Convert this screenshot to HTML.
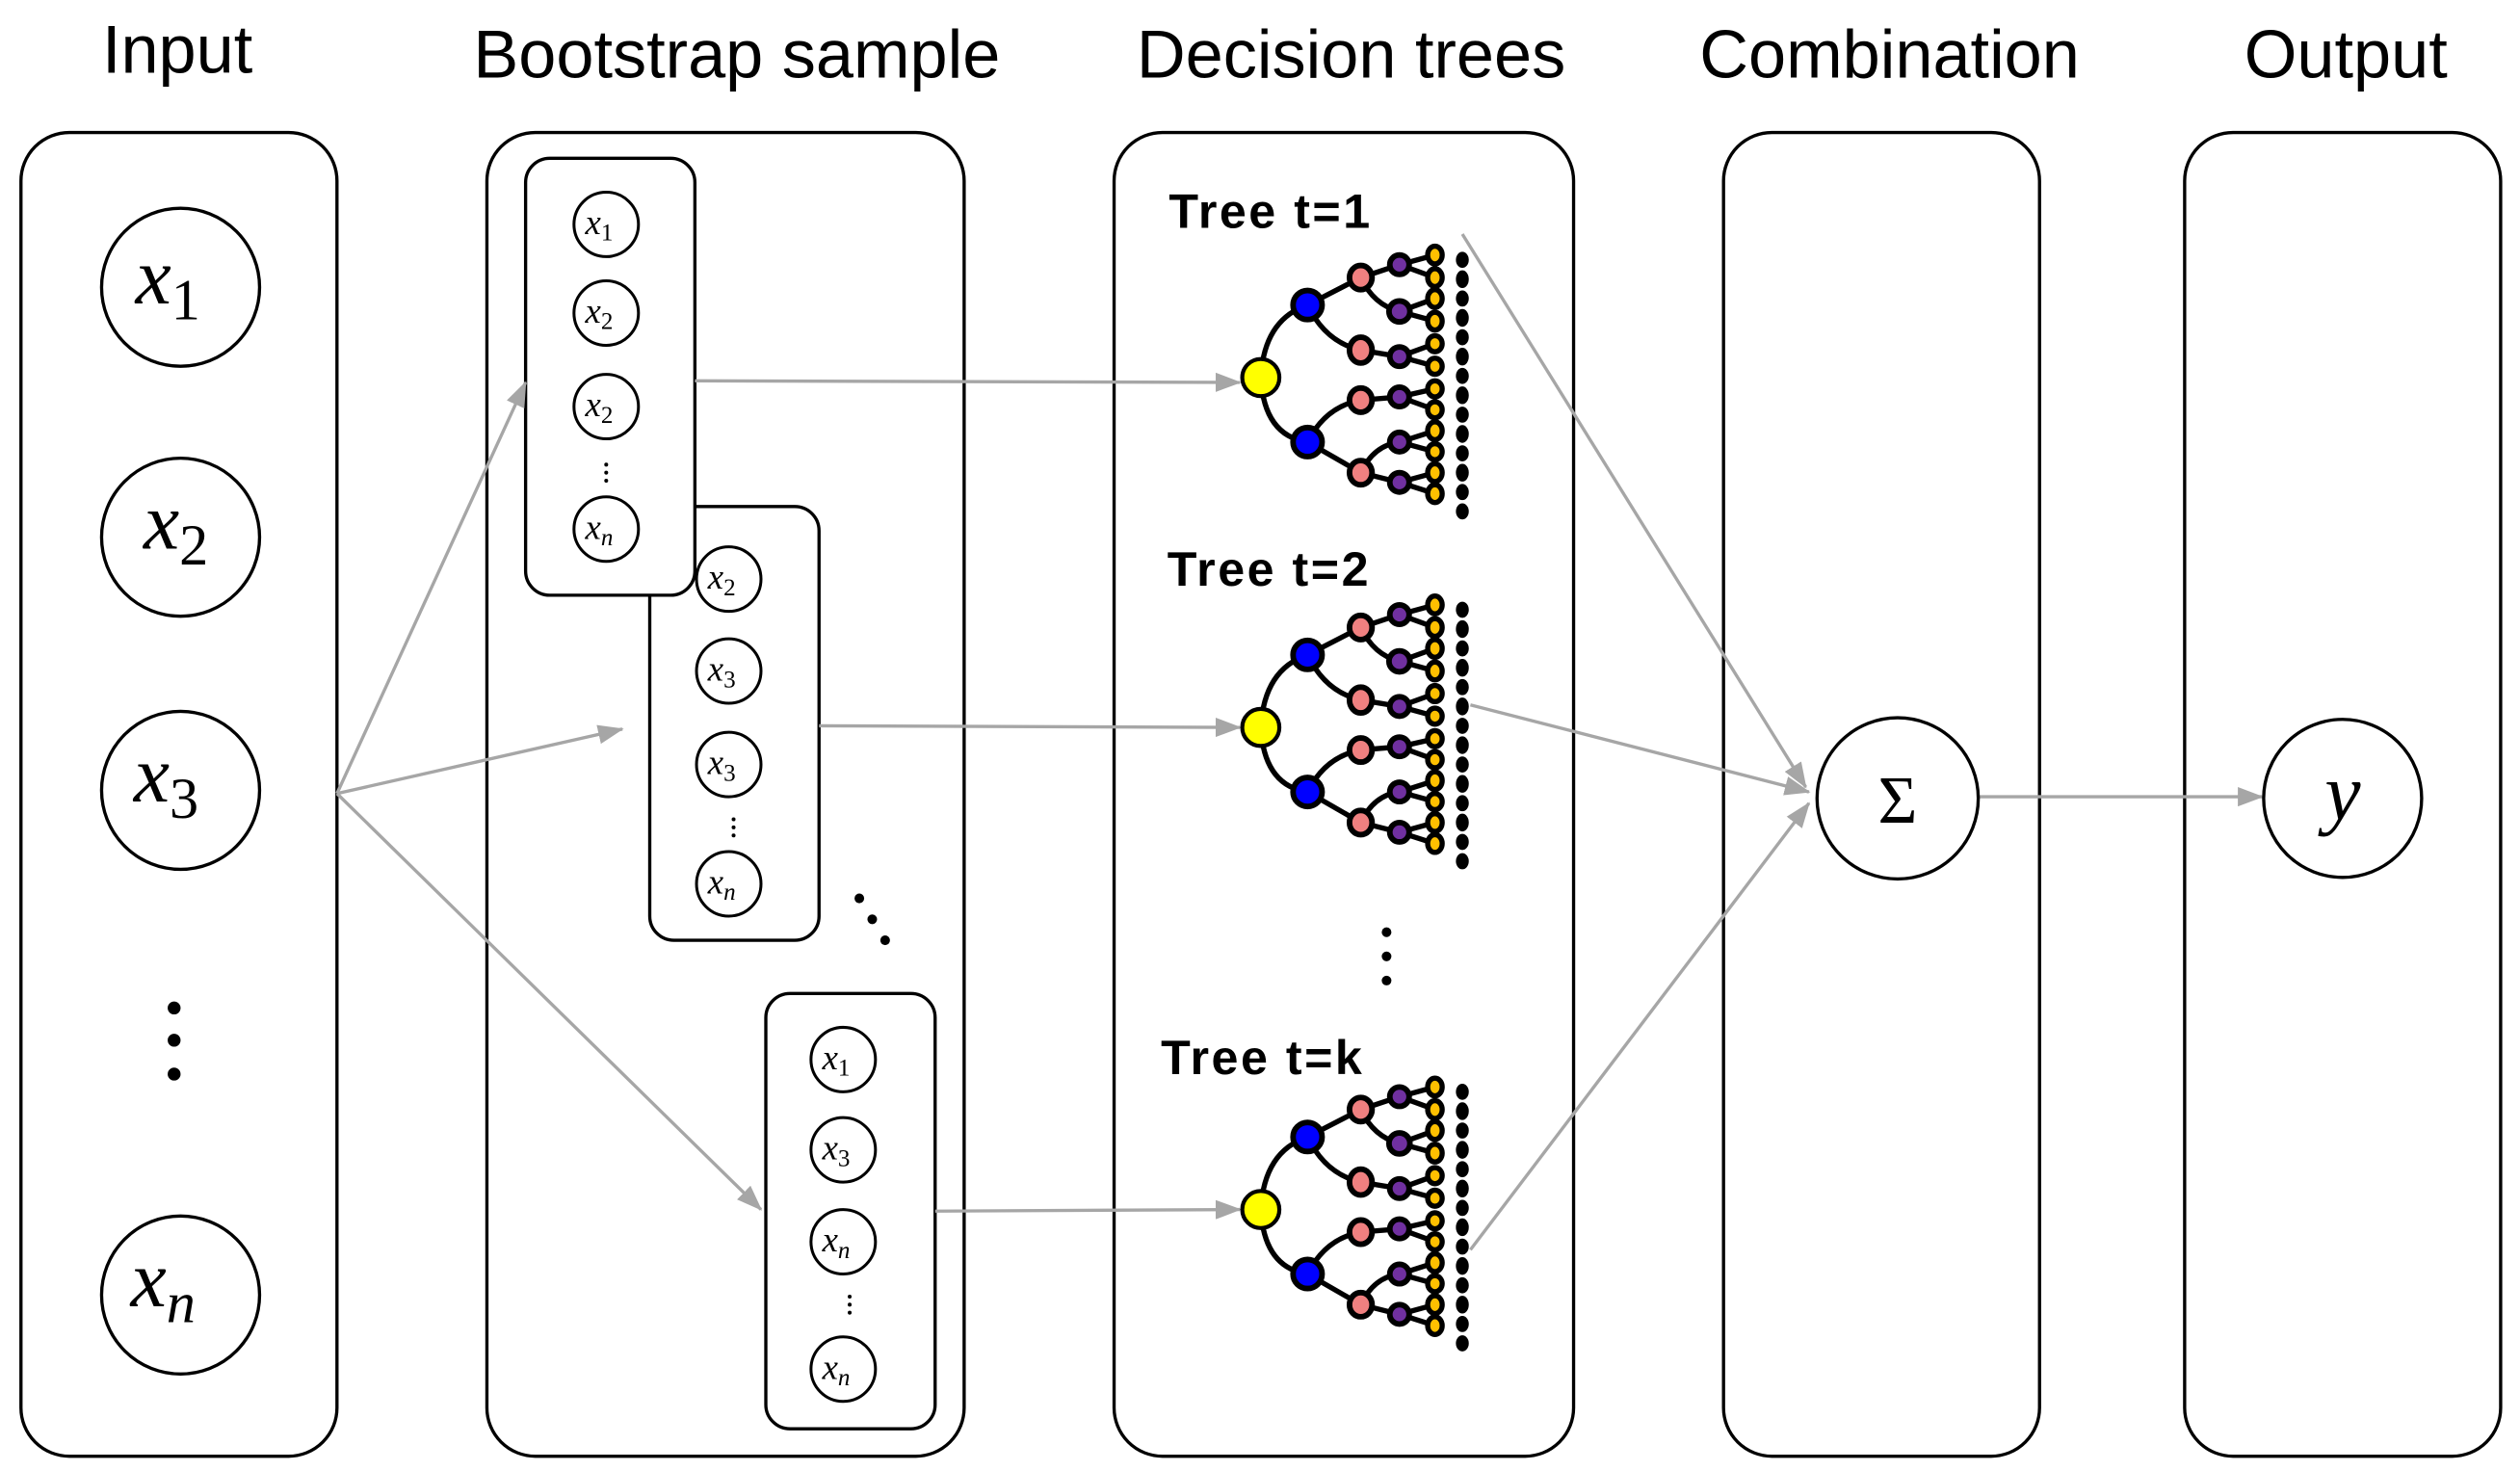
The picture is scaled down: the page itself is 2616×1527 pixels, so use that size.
<!DOCTYPE html>
<html><head><meta charset="utf-8"><style>html,body{margin:0;padding:0;background:#fff}svg{display:block}</style></head>
<body>
<svg width="2616" height="1527" viewBox="0 0 1563 912" xmlns="http://www.w3.org/2000/svg">
<defs>
<marker id="ah" markerWidth="16" markerHeight="12" refX="15" refY="6" orient="auto" markerUnits="userSpaceOnUse">
<path d="M0,0 L16,6 L0,12 Z" fill="#a6a6a6"/></marker>
<g id="tree">
 <g fill="none" stroke="#000" stroke-width="3.2">
  <path d="M0,0 Q2,-36 29,-45"/><path d="M0,0 Q2,36 29,40"/>
  <path d="M29,-45 L62,-62"/><path d="M29,-45 Q40,-22 62,-17"/>
  <path d="M29,40 Q40,18 62,14"/><path d="M29,40 L62,59"/>
  <path d="M62,-62 L86,-70"/><path d="M62,-62 Q70,-45 86,-41"/>
  <path d="M62,-17 L86,-13"/><path d="M62,14 L86,12"/>
  <path d="M62,59 Q70,42 86,40"/><path d="M62,59 L86,65"/>
  <path d="M86,-70 L108,-76"/><path d="M86,-70 L108,-62"/>
  <path d="M86,-41 L108,-49"/><path d="M86,-41 L108,-35"/>
  <path d="M86,-13 L108,-21"/><path d="M86,-13 L108,-7"/>
  <path d="M86,12 L108,7"/><path d="M86,12 L108,20"/>
  <path d="M86,40 L108,33"/><path d="M86,40 L108,46"/>
  <path d="M86,65 L108,59"/><path d="M86,65 L108,72"/>
 </g>
 <g stroke="#000">
  <circle cx="0" cy="0" r="11.5" fill="#ffff00" stroke-width="2.5"/>
  <circle cx="29" cy="-45" r="9" fill="#0000ff" stroke-width="3.5"/>
  <circle cx="29" cy="40" r="9" fill="#0000ff" stroke-width="3.5"/>
  <g fill="#f08080" stroke-width="3.5">
   <ellipse cx="62" cy="-62" rx="7" ry="7.5"/><ellipse cx="62" cy="-17" rx="7" ry="8"/>
   <ellipse cx="62" cy="14" rx="7" ry="7.5"/><ellipse cx="62" cy="59" rx="7" ry="7.5"/>
  </g>
  <g fill="#7030a0" stroke-width="3.5">
   <circle cx="86" cy="-70" r="6"/><circle cx="86" cy="-41" r="6.5"/><circle cx="86" cy="-13" r="6"/>
   <circle cx="86" cy="12" r="6"/><circle cx="86" cy="40" r="6"/><circle cx="86" cy="65" r="6"/>
  </g>
  <g fill="#ffc000" stroke-width="3.2">
   <ellipse cx="108" cy="-76" rx="4.5" ry="5.5"/><ellipse cx="108" cy="-62" rx="4.5" ry="5.5"/>
   <ellipse cx="108" cy="-49" rx="4.5" ry="5.5"/><ellipse cx="108" cy="-35" rx="4.5" ry="5.5"/>
   <ellipse cx="108" cy="-21" rx="4.5" ry="5"/><ellipse cx="108" cy="-7" rx="4.5" ry="5"/>
   <ellipse cx="108" cy="7" rx="4.5" ry="5"/><ellipse cx="108" cy="20" rx="4.5" ry="5"/>
   <ellipse cx="108" cy="33" rx="4.5" ry="5.5"/><ellipse cx="108" cy="46" rx="4.5" ry="5"/>
   <ellipse cx="108" cy="59" rx="4.5" ry="5.5"/><ellipse cx="108" cy="72" rx="4.5" ry="5.5"/>
  </g>
 </g>
 <g fill="#000">
  <ellipse cx="125" cy="-73" rx="4" ry="5"/><ellipse cx="125" cy="-61" rx="4" ry="5.5"/>
  <ellipse cx="125" cy="-49" rx="4" ry="5"/><ellipse cx="125" cy="-37" rx="4" ry="5.5"/>
  <ellipse cx="125" cy="-25" rx="4" ry="5"/><ellipse cx="125" cy="-13" rx="4" ry="5.5"/>
  <ellipse cx="125" cy="-1" rx="4" ry="5"/><ellipse cx="125" cy="11" rx="4" ry="5.5"/>
  <ellipse cx="125" cy="23" rx="4" ry="5"/><ellipse cx="125" cy="35" rx="4" ry="5.5"/>
  <ellipse cx="125" cy="47" rx="4" ry="5"/><ellipse cx="125" cy="59" rx="4" ry="5.5"/>
  <ellipse cx="125" cy="71" rx="4" ry="5"/><ellipse cx="125" cy="83" rx="4" ry="5"/>
 </g>
</g>
</defs>

<g font-family="Liberation Sans, Arial, sans-serif" font-size="42" text-anchor="middle" fill="#000">
 <text x="110" y="45">Input</text>
 <text x="457" y="48">Bootstrap sample</text>
 <text x="838" y="48">Decision trees</text>
 <text x="1172" y="48">Combination</text>
 <text x="1455" y="48">Output</text>
</g>

<g fill="none" stroke="#000" stroke-width="2">
 <rect x="13" y="82" width="196" height="821" rx="30"/>
 <rect x="302" y="82" width="296" height="821" rx="30"/>
 <rect x="691" y="82" width="285" height="821" rx="30"/>
 <rect x="1069" y="82" width="196" height="821" rx="30"/>
 <rect x="1355" y="82" width="196" height="821" rx="30"/>
</g>

<!-- input circles -->
<g fill="#fff" stroke="#000" stroke-width="2">
 <ellipse cx="112" cy="178" rx="49" ry="49"/><ellipse cx="112" cy="333" rx="49" ry="49"/>
 <ellipse cx="112" cy="490" rx="49" ry="49"/><ellipse cx="112" cy="803" rx="49" ry="49"/>
</g>
<g font-family="Liberation Serif, serif" font-style="italic" font-size="50" fill="#000">
 <text x="84" y="188">x<tspan font-style="normal" font-size="36" dy="10">1</tspan></text>
 <text x="89" y="340">x<tspan font-style="normal" font-size="36" dy="10">2</tspan></text>
 <text x="83" y="497">x<tspan font-style="normal" font-size="36" dy="10">3</tspan></text>
 <text x="81" y="810">x<tspan font-size="36" dy="10">n</tspan></text>
</g>
<g fill="#000"><circle cx="108" cy="625" r="4"/><circle cx="108" cy="645" r="4"/><circle cx="108" cy="666" r="4"/></g>

<!-- bootstrap boxes -->
<g fill="#fff" stroke="#000" stroke-width="2">
 <rect x="403" y="314" width="105" height="269" rx="15"/>
 <rect x="326" y="98" width="105" height="271" rx="15"/>
 <rect x="475" y="616" width="105" height="270" rx="15"/>
</g>
<g fill="#fff" stroke="#000" stroke-width="1.8">
 <circle cx="376" cy="139" r="20"/><circle cx="376" cy="194" r="20"/><circle cx="376" cy="252" r="20"/><circle cx="376" cy="328" r="20"/>
 <circle cx="452" cy="359" r="20"/><circle cx="452" cy="416" r="20"/><circle cx="452" cy="474" r="20"/><circle cx="452" cy="548" r="20"/>
 <circle cx="523" cy="657" r="20"/><circle cx="523" cy="713" r="20"/><circle cx="523" cy="770" r="20"/><circle cx="523" cy="849" r="20"/>
</g>
<g font-family="Liberation Serif, serif" font-style="italic" font-size="22" fill="#000">
 <text x="363" y="145">x<tspan font-style="normal" font-size="15" dy="4">1</tspan></text>
 <text x="363" y="200">x<tspan font-style="normal" font-size="15" dy="4">2</tspan></text>
 <text x="363" y="258">x<tspan font-style="normal" font-size="15" dy="4">2</tspan></text>
 <text x="363" y="334">x<tspan font-size="15" dy="4">n</tspan></text>
 <text x="439" y="365">x<tspan font-style="normal" font-size="15" dy="4">2</tspan></text>
 <text x="439" y="422">x<tspan font-style="normal" font-size="15" dy="4">3</tspan></text>
 <text x="439" y="480">x<tspan font-style="normal" font-size="15" dy="4">3</tspan></text>
 <text x="439" y="554">x<tspan font-size="15" dy="4">n</tspan></text>
 <text x="510" y="663">x<tspan font-style="normal" font-size="15" dy="4">1</tspan></text>
 <text x="510" y="719">x<tspan font-style="normal" font-size="15" dy="4">3</tspan></text>
 <text x="510" y="776">x<tspan font-size="15" dy="4">n</tspan></text>
 <text x="510" y="855">x<tspan font-size="15" dy="4">n</tspan></text>
</g>
<g fill="#000">
 <circle cx="376" cy="288" r="1.2"/><circle cx="376" cy="293" r="1.2"/><circle cx="376" cy="298" r="1.2"/>
 <circle cx="455" cy="508" r="1.2"/><circle cx="455" cy="513" r="1.2"/><circle cx="455" cy="518" r="1.2"/>
 <circle cx="527" cy="804" r="1.2"/><circle cx="527" cy="809" r="1.2"/><circle cx="527" cy="814" r="1.2"/>
 <circle cx="533" cy="557" r="3"/><circle cx="541" cy="570" r="3"/><circle cx="549" cy="583" r="3"/>
 <circle cx="860" cy="578" r="3"/><circle cx="860" cy="593" r="3"/><circle cx="860" cy="608" r="3"/>
</g>

<!-- arrows -->
<g stroke="#a6a6a6" stroke-width="2" fill="none" marker-end="url(#ah)">
 <line x1="209" y1="492" x2="326" y2="237"/>
 <line x1="209" y1="492" x2="386" y2="452"/>
 <line x1="209" y1="492" x2="472" y2="750"/>
 <line x1="431" y1="236" x2="769" y2="237"/>
 <line x1="508" y1="450" x2="769" y2="451"/>
 <line x1="580" y1="751" x2="769" y2="750"/>
 <line x1="907" y1="145" x2="1120" y2="488"/>
 <line x1="912" y1="437" x2="1122" y2="491"/>
 <line x1="912" y1="775" x2="1122" y2="498"/>
 <line x1="1227" y1="494" x2="1403" y2="494"/>
</g>

<!-- trees -->
<use href="#tree" x="782" y="234"/>
<use href="#tree" x="782" y="451"/>
<use href="#tree" x="782" y="750"/>
<g font-family="Liberation Sans, Arial, sans-serif" font-weight="bold" font-size="30" letter-spacing="1.5" fill="#000">
 <text x="725" y="141">Tree t=1</text>
 <text x="724" y="363">Tree t=2</text>
 <text x="720" y="666">Tree t=k</text>
</g>

<!-- combination / output -->
<circle cx="1177" cy="495" r="50" fill="#fff" stroke="#000" stroke-width="2"/>
<text x="1177" y="510" font-family="Liberation Serif, serif" font-size="42" text-anchor="middle">Σ</text>
<circle cx="1453" cy="495" r="49" fill="#fff" stroke="#000" stroke-width="2"/>
<text x="1453" y="508" font-family="Liberation Serif, serif" font-style="italic" font-size="50" text-anchor="middle">y</text>
</svg>
</body></html>
